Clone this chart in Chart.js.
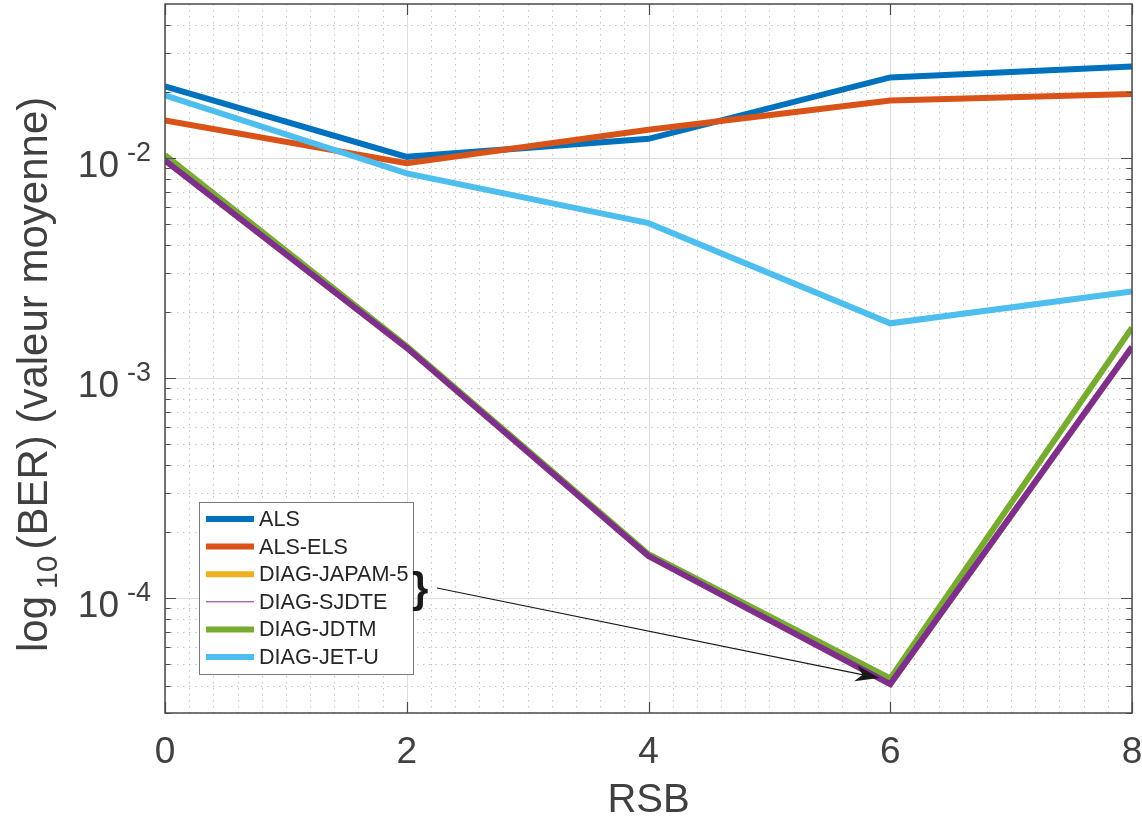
<!DOCTYPE html>
<html>
<head>
<meta charset="utf-8">
<title>BER vs RSB</title>
<script src="https://cdn.jsdelivr.net/npm/chart.js@4.4.0/dist/chart.umd.min.js"></script>
<style>
  html, body { margin: 0; padding: 0; background: #fff; }
  canvas { display: block; }
</style>
</head>
<body>
<canvas id="berChart" width="1142" height="819"></canvas>
<script>
// --- data ---
const rsb = [0, 2, 4, 6, 8];
const als = [0.0211, 0.0101, 0.0122, 0.0232, 0.0260];
const alsEls = [0.0148, 0.00946, 0.0134, 0.0182, 0.0195];
const diagJapam5 = [0.00972, 0.00137, 1.55e-4, 4.06e-5, 0.00138];
const diagSjdte = [0.00972, 0.00137, 1.55e-4, 4.06e-5, 0.00138];
const diagJdtm = [0.0103, 0.00139, 1.58e-4, 4.31e-5, 0.00169];
const diagJetU = [0.0192, 0.0085, 0.00505, 0.00177, 0.00247];

const xTicks = [0, 2, 4, 6, 8];
const yTickExponents = [-4, -3, -2];
const xTitle = 'RSB';
const yTitleParts = ['log', '10', '(BER) (valeur moyenne)'];

const FONT = '"Liberation Sans", Arial, Helvetica, sans-serif';
const AXIS_COLOR = '#4a4a4a';
const TEXT_COLOR = '#404040';

function series(label, values, color, order, legendWidth) {
    return {
        label,
        data: rsb.map((x, i) => ({ x, y: values[i] })),
        borderColor: color,
        backgroundColor: color,
        borderWidth: 6,
        pointRadius: 0,
        tension: 0,
        fill: false,
        order,
        legendWidth
    };
}

const datasets = [
    series('ALS', als, '#0072BD', 6, 6),
    series('ALS-ELS', alsEls, '#D95319', 5, 6),
    series('DIAG-JAPAM-5', diagJapam5, '#EDB120', 4, 6),
    series('DIAG-SJDTE', diagSjdte, '#7E2F8E', 2, 1),
    series('DIAG-JDTM', diagJdtm, '#77AC30', 3, 6),
    series('DIAG-JET-U', diagJetU, '#4DBEEE', 1, 6)
];

function crisp(v) { return Math.round(v) + 0.5; }

function drawGrid(chart) {
    const { ctx, chartArea: a, scales: { x, y } } = chart;
    ctx.save();
    ctx.lineWidth = 1;

    // minor grid, dotted
    ctx.strokeStyle = '#c4c4c4';
    ctx.setLineDash([1.5, 4.5]);
    ctx.beginPath();
    for (let i = 1; i < 40; i++) {
        const v = i * 0.2;
        if (i % 10 === 0) continue;
        const px = crisp(x.getPixelForValue(v));
        ctx.moveTo(px, a.top); ctx.lineTo(px, a.bottom);
    }
    for (let e = -5; e <= -1; e++) {
        for (let k = 2; k <= 9; k++) {
            const v = k * Math.pow(10, e);
            if (v <= y.min || v >= y.max) continue;
            const py = crisp(y.getPixelForValue(v));
            ctx.moveTo(a.left, py); ctx.lineTo(a.right, py);
        }
    }
    ctx.stroke();

    // major grid, solid
    ctx.setLineDash([]);
    ctx.strokeStyle = '#dedede';
    ctx.beginPath();
    xTicks.forEach(v => {
        const px = crisp(x.getPixelForValue(v));
        ctx.moveTo(px, a.top); ctx.lineTo(px, a.bottom);
    });
    yTickExponents.forEach(e => {
        const py = crisp(y.getPixelForValue(Math.pow(10, e)));
        ctx.moveTo(a.left, py); ctx.lineTo(a.right, py);
    });
    ctx.stroke();
    ctx.restore();
}

function drawAxes(chart) {
    const { ctx, chartArea: a, scales: { x, y } } = chart;
    ctx.save();
    ctx.strokeStyle = AXIS_COLOR;
    ctx.lineWidth = 1.5;
    ctx.strokeRect(a.left, a.top, a.right - a.left, a.bottom - a.top);

    // ticks point inward, on all four sides
    ctx.lineWidth = 1.2;
    ctx.beginPath();
    xTicks.forEach(v => {
        const px = crisp(x.getPixelForValue(v));
        ctx.moveTo(px, a.bottom); ctx.lineTo(px, a.bottom - 11);
        ctx.moveTo(px, a.top); ctx.lineTo(px, a.top + 11);
    });
    for (let e = -5; e <= -1; e++) {
        for (let k = 1; k <= 9; k++) {
            const v = k * Math.pow(10, e);
            if (v <= y.min || v >= y.max) continue;
            const len = k === 1 ? 11 : 5.5;
            const py = crisp(y.getPixelForValue(v));
            ctx.moveTo(a.left, py); ctx.lineTo(a.left + len, py);
            ctx.moveTo(a.right, py); ctx.lineTo(a.right - len, py);
        }
    }
    ctx.stroke();

    // x tick labels
    ctx.fillStyle = TEXT_COLOR;
    ctx.font = `37px ${FONT}`;
    ctx.textAlign = 'center';
    ctx.textBaseline = 'alphabetic';
    xTicks.forEach(v => {
        ctx.fillText(String(v), x.getPixelForValue(v), a.bottom + 50);
    });

    // y tick labels 10^e
    yTickExponents.forEach(e => {
        const py = y.getPixelForValue(Math.pow(10, e));
        const sup = String(e);
        ctx.font = `27px ${FONT}`;
        const supW = ctx.measureText(sup).width;
        const supX = 151 - supW;
        ctx.textAlign = 'left';
        ctx.fillText(sup, supX, py + 3);
        ctx.font = `37px ${FONT}`;
        ctx.textAlign = 'right';
        ctx.fillText('10', supX - 8, py + 19);
    });

    // x title
    ctx.font = `40px ${FONT}`;
    ctx.textAlign = 'center';
    ctx.fillText(xTitle, (a.left + a.right) / 2, a.bottom + 99);

    // y title (rotated, with subscript)
    ctx.translate(47, 652);
    ctx.rotate(-Math.PI / 2);
    ctx.textAlign = 'left';
    ctx.font = `42px ${FONT}`;
    let cx = 0;
    ctx.fillText(yTitleParts[0], cx, 0);
    cx += ctx.measureText(yTitleParts[0]).width + 7;
    ctx.font = `30px ${FONT}`;
    ctx.fillText(yTitleParts[1], cx, 10);
    cx += ctx.measureText(yTitleParts[1]).width + 6;
    ctx.font = `42px ${FONT}`;
    ctx.fillText(yTitleParts[2], cx, 0);
    ctx.restore();
}

function drawLegend(chart) {
    const { ctx, scales: { x, y } } = chart;
    const box = { left: 199, top: 502, right: 413, bottom: 674 };
    const rowStart = 519, rowStep = 27.6;
    ctx.save();
    ctx.fillStyle = '#fff';
    ctx.fillRect(box.left, box.top, box.right - box.left, box.bottom - box.top);
    ctx.strokeStyle = '#7a7a7a';
    ctx.lineWidth = 1;
    ctx.strokeRect(box.left + 0.5, box.top + 0.5, box.right - box.left, box.bottom - box.top);

    ctx.font = `21.6px ${FONT}`;
    ctx.textAlign = 'left';
    ctx.textBaseline = 'middle';
    chart.data.datasets.forEach((ds, i) => {
        const cy = rowStart + i * rowStep;
        ctx.strokeStyle = ds.borderColor;
        ctx.lineWidth = ds.legendWidth;
        ctx.beginPath();
        ctx.moveTo(206, cy); ctx.lineTo(254, cy);
        ctx.stroke();
        ctx.fillStyle = '#262626';
        ctx.fillText(ds.label, 259, cy + 1);
    });

    // brace grouping JAPAM-5 and SJDTE
    const braceY = rowStart + 2.5 * rowStep;
    ctx.fillStyle = '#1a1a1a';
    ctx.font = `bold 42px ${FONT}`;
    ctx.textBaseline = 'middle';
    ctx.fillText('}', box.right - 1, braceY + 2);

    // arrow to the minimum at RSB = 6
    const x0 = box.right + 24, y0 = braceY;
    const x1 = x.getPixelForValue(6) - 11;
    const y1 = y.getPixelForValue(diagSjdte[3]) - 6;
    const ang = Math.atan2(y1 - y0, x1 - x0);
    ctx.strokeStyle = '#1a1a1a';
    ctx.lineWidth = 1.2;
    ctx.beginPath();
    ctx.moveTo(x0, y0);
    ctx.lineTo(x1 - 15 * Math.cos(ang), y1 - 15 * Math.sin(ang));
    ctx.stroke();
    ctx.translate(x1, y1);
    ctx.rotate(ang);
    ctx.beginPath();
    ctx.moveTo(0, 0);
    ctx.lineTo(-24, -8);
    ctx.lineTo(-17, 0);
    ctx.lineTo(-24, 8);
    ctx.closePath();
    ctx.fill();
    ctx.restore();
}

const matlabAxes = {
    id: 'matlabAxes',
    beforeDatasetsDraw: drawGrid,
    afterDatasetsDraw(chart) {
        drawAxes(chart);
        drawLegend(chart);
    }
};

new Chart(document.getElementById('berChart'), {
    type: 'line',
    data: { datasets },
    options: {
        responsive: false,
        devicePixelRatio: 1,
        animation: false,
        layout: { padding: { left: 165, top: 4, right: 10, bottom: 106 } },
        elements: { line: { borderCapStyle: 'butt', borderJoinStyle: 'miter' } },
        scales: {
            x: { type: 'linear', min: 0, max: 8, display: false },
            y: { type: 'logarithmic', min: 3e-5, max: 5e-2, display: false }
        },
        plugins: { legend: { display: false }, tooltip: { enabled: false } }
    },
    plugins: [matlabAxes]
});
</script>
</body>
</html>
